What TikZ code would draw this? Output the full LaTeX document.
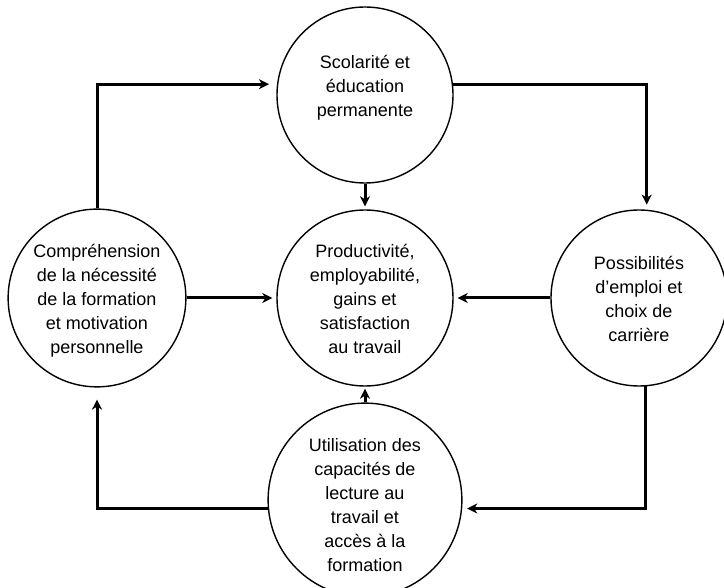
\documentclass[tikz,border=0pt]{standalone}
\usepackage{fontspec}
\setmainfont{Liberation Sans}
\usetikzlibrary{arrows.meta}
\newcommand\ctext[1]{\begin{tabular}{@{}c@{}}#1\end{tabular}}
\begin{document}
\begin{tikzpicture}[x=1pt,y=-1pt,
  circ/.style={draw, circle, line width=1.4pt, minimum size=176pt, inner sep=0pt,
    font=\fontsize{18}{24}\selectfont},
  conn/.style={line width=3pt, -{Stealth[length=10pt,width=10pt,inset=3pt]}}]
\useasboundingbox (0,0) rectangle (724,588);
\node[circ] (nTop) at (365,95) {\ctext{Scolarité et\\ éducation\\ permanente\\[14pt]}};
\node[circ] (nCen) at (365,298) {\ctext{\rule{0pt}{22pt}Productivité,\\ employabilité,\\ gains et\\ satisfaction\\ au travail}};
\node[circ] (nL) at (97,298) {\ctext{\rule{0pt}{22pt}Compréhension\\ de la nécessité\\ de la formation\\ et motivation\\ personnelle}};
\node[circ] (nR) at (639,298) {\ctext{\rule{0pt}{22pt}Possibilités\\ d’emploi et\\ choix de\\ carrière}};
\node[circ] (nBot) at (365,500) {\ctext{\rule{0pt}{31pt}Utilisation des\\ capacités de\\ lecture au\\ travail et\\ accès à la\\ formation}};
\draw[conn, shorten >=8pt] (nL.north) |- (nTop.173);
\draw[conn, shorten >=5pt] (nTop.7) -| (nR.85);
\draw[conn, shorten >=5pt] (nR.-86) |- (nBot.-5);
\draw[conn, shorten >=12pt] (nBot.185) -| (nL.south);
\draw[conn, shorten >=4pt] (nL.east) -- (nCen.west);
\draw[conn, shorten >=4pt] (nR.west) -- (nCen.east);
\draw[conn, shorten >=3pt] (nTop.south) -- (nCen.north);
\draw[conn, shorten >=2pt] (nBot.north) -- (nCen.south);
\end{tikzpicture}
\end{document}
